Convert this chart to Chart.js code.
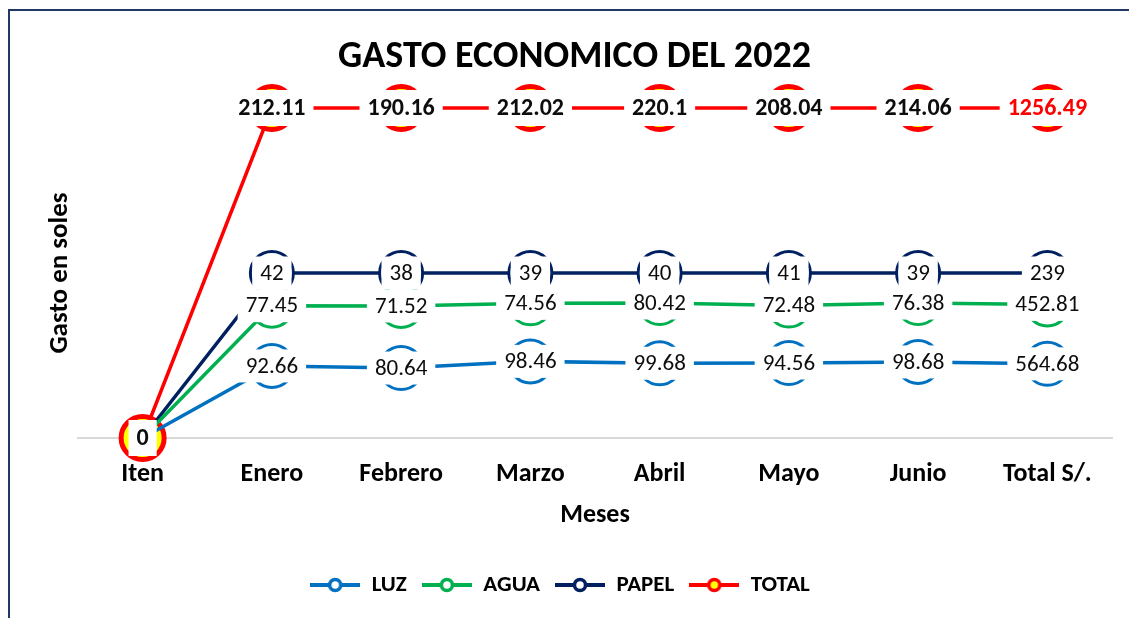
<!DOCTYPE html>
<html><head><meta charset="utf-8">
<script src="https://cdn.jsdelivr.net/npm/chart.js@4.4.0/dist/chart.umd.min.js"></script>
<style>
html,body{margin:0;padding:0;background:#fff;overflow:hidden;width:1129px;height:618px;}
#frame{position:absolute;left:8px;top:9px;width:1200px;height:700px;border:2.5px solid #1f3864;box-sizing:border-box;}
#wrap{position:absolute;left:0;top:0;width:1129px;height:618px;}
</style></head><body>
<div id="frame"></div>
<div id="wrap"><canvas id="c"></canvas></div>
<script>
const categories = ['Iten','Enero','Febrero','Marzo','Abril','Mayo','Junio','Total S/.'];
const luz   = [0, 92.66, 80.64, 98.46, 99.68, 94.56, 98.68, 564.68];
const agua  = [0, 77.45, 71.52, 74.56, 80.42, 72.48, 76.38, 452.81];
const papel = [0, 42, 38, 39, 40, 41, 39, 239];
const total = [0, 212.11, 190.16, 212.02, 220.1, 208.04, 214.06, 1256.49];
const seriesNames = ['LUZ','AGUA','PAPEL','TOTAL'];

const FONT = 'Calibri, Carlito, Lato, sans-serif';
// 100% stacked line: each series is shown as its share of the column sum
const colSum = categories.map((_, i) => luz[i] + agua[i] + papel[i] + total[i]);
const pct = arr => arr.map((v, i) => colSum[i] ? v / colSum[i] * 100 : 0);

const colors = {LUZ:'#0070C0', AGUA:'#00B050', PAPEL:'#002060', TOTAL:'#FF0000'};

function legendIcon(stroke, fill){
  const c = document.createElement('canvas');
  c.width = 50; c.height = 18;
  const g = c.getContext('2d');
  g.strokeStyle = stroke; g.lineWidth = 4;
  g.beginPath(); g.moveTo(0, 9); g.lineTo(50, 9); g.stroke();
  g.beginPath(); g.arc(25, 9, 5.5, 0, Math.PI*2);
  g.fillStyle = fill; g.fill(); g.lineWidth = 3.5; g.stroke();
  return c;
}
const icons = [legendIcon(colors.LUZ,'#fff'), legendIcon(colors.AGUA,'#fff'), legendIcon(colors.PAPEL,'#fff'), legendIcon(colors.TOTAL,'#FFFF00')];

function mk(name, raw, isTotal){
  return {
    label: name,
    data: pct(raw),
    raw: raw,
    isTotal: isTotal,
    clip: false,
    borderColor: colors[name],
    backgroundColor: colors[name],
    borderWidth: 3.5,
    fill: false,
    tension: 0,
    pointRadius: raw.map((v, i) => (!isTotal && i === 0) ? 0 : 21.5),
    pointHoverRadius: raw.map((v, i) => (!isTotal && i === 0) ? 0 : 21.5),
    pointBorderWidth: isTotal ? 5 : 3,
    pointBorderColor: colors[name],
    pointBackgroundColor: isTotal ? '#FFFF00' : '#FFFFFF'
  };
}

const labelPlugin = {
  id: 'valueLabels',
  afterDatasetsDraw(chart){
    const ctx = chart.ctx;
    chart.data.datasets.forEach((ds, di) => {
      const meta = chart.getDatasetMeta(di);
      meta.data.forEach((pt, i) => {
        if (!ds.isTotal && i === 0) return;
        const txt = String(ds.raw[i]);
        ctx.save();
        ctx.font = ds.isTotal ? ('bold 24px ' + FONT) : ('23px ' + FONT);
        const w = ctx.measureText(txt).width;
        const bw = w + 16, bh = ds.isTotal ? 36 : 33;
        ctx.fillStyle = '#FFFFFF';
        ctx.fillRect(pt.x - bw/2, pt.y - bh/2, bw, bh);
        ctx.fillStyle = (ds.isTotal && i === ds.raw.length - 1) ? '#FF0000' : '#0D0D0D';
        ctx.textAlign = 'center';
        ctx.textBaseline = 'middle';
        ctx.fillText(txt, pt.x, pt.y + 1);
        ctx.restore();
      });
    });
  }
};

// shift the legend row so that it sits where the original legend is
const legendShift = {
  id: 'legendShift',
  afterLayout(chart){
    if (chart.legend) { chart.legend.left -= 14.5; chart.legend.right -= 14.5; }
  }
};

new Chart(document.getElementById('c'), {
  type: 'line',
  data: {
    labels: categories,
    datasets: [mk('LUZ', luz, false), mk('AGUA', agua, false), mk('PAPEL', papel, false), mk('TOTAL', total, true)]
  },
  options: {
    responsive: true,
    maintainAspectRatio: false,
    animation: false,
    layout: {autoPadding: false, padding: {left: 37, right: 17, top: 20, bottom: 11.5}},
    plugins: {
      title: {display: true, text: 'GASTO ECONOMICO DEL 2022', color: '#000',
        font: {family: FONT, size: 38, weight: 'bold'}, padding: {top: 14.2, bottom: 28.2}},
      legend: {position: 'bottom',
        labels: {usePointStyle: true, pointStyleWidth: 50, padding: 15, color: '#000',
          font: {family: FONT, size: 23, weight: 'bold'},
          generateLabels(chart){
            const items = Chart.defaults.plugins.legend.labels.generateLabels(chart);
            items.forEach((it, k) => { it.pointStyle = icons[k]; });
            return items;
          }}},
      tooltip: {enabled: false}
    },
    scales: {
      x: {offset: true,
        afterFit(scale){ scale.paddingLeft = 0; scale.paddingRight = 0; },
        grid: {display: false, drawTicks: true, tickLength: 20.4},
        border: {display: true, color: '#D9D9D9', width: 2},
        ticks: {padding: 0, color: '#000', font: {family: FONT, size: 26, weight: 'bold'}},
        title: {display: true, text: 'Meses', color: '#000', font: {family: FONT, size: 26, weight: 'bold'}, padding: {top: 9.8, bottom: 27.9}}},
      y: {stacked: true, min: 0, max: 100,
        grid: {display: false, drawTicks: false},
        border: {display: false},
        ticks: {display: false},
        title: {display: true, text: 'Gasto en soles', color: '#000', font: {family: FONT, size: 27, weight: 'bold'}, padding: {top: 6.8, bottom: 1.8}}}
    }
  },
  plugins: [labelPlugin, legendShift]
});
</script>
</body></html>
